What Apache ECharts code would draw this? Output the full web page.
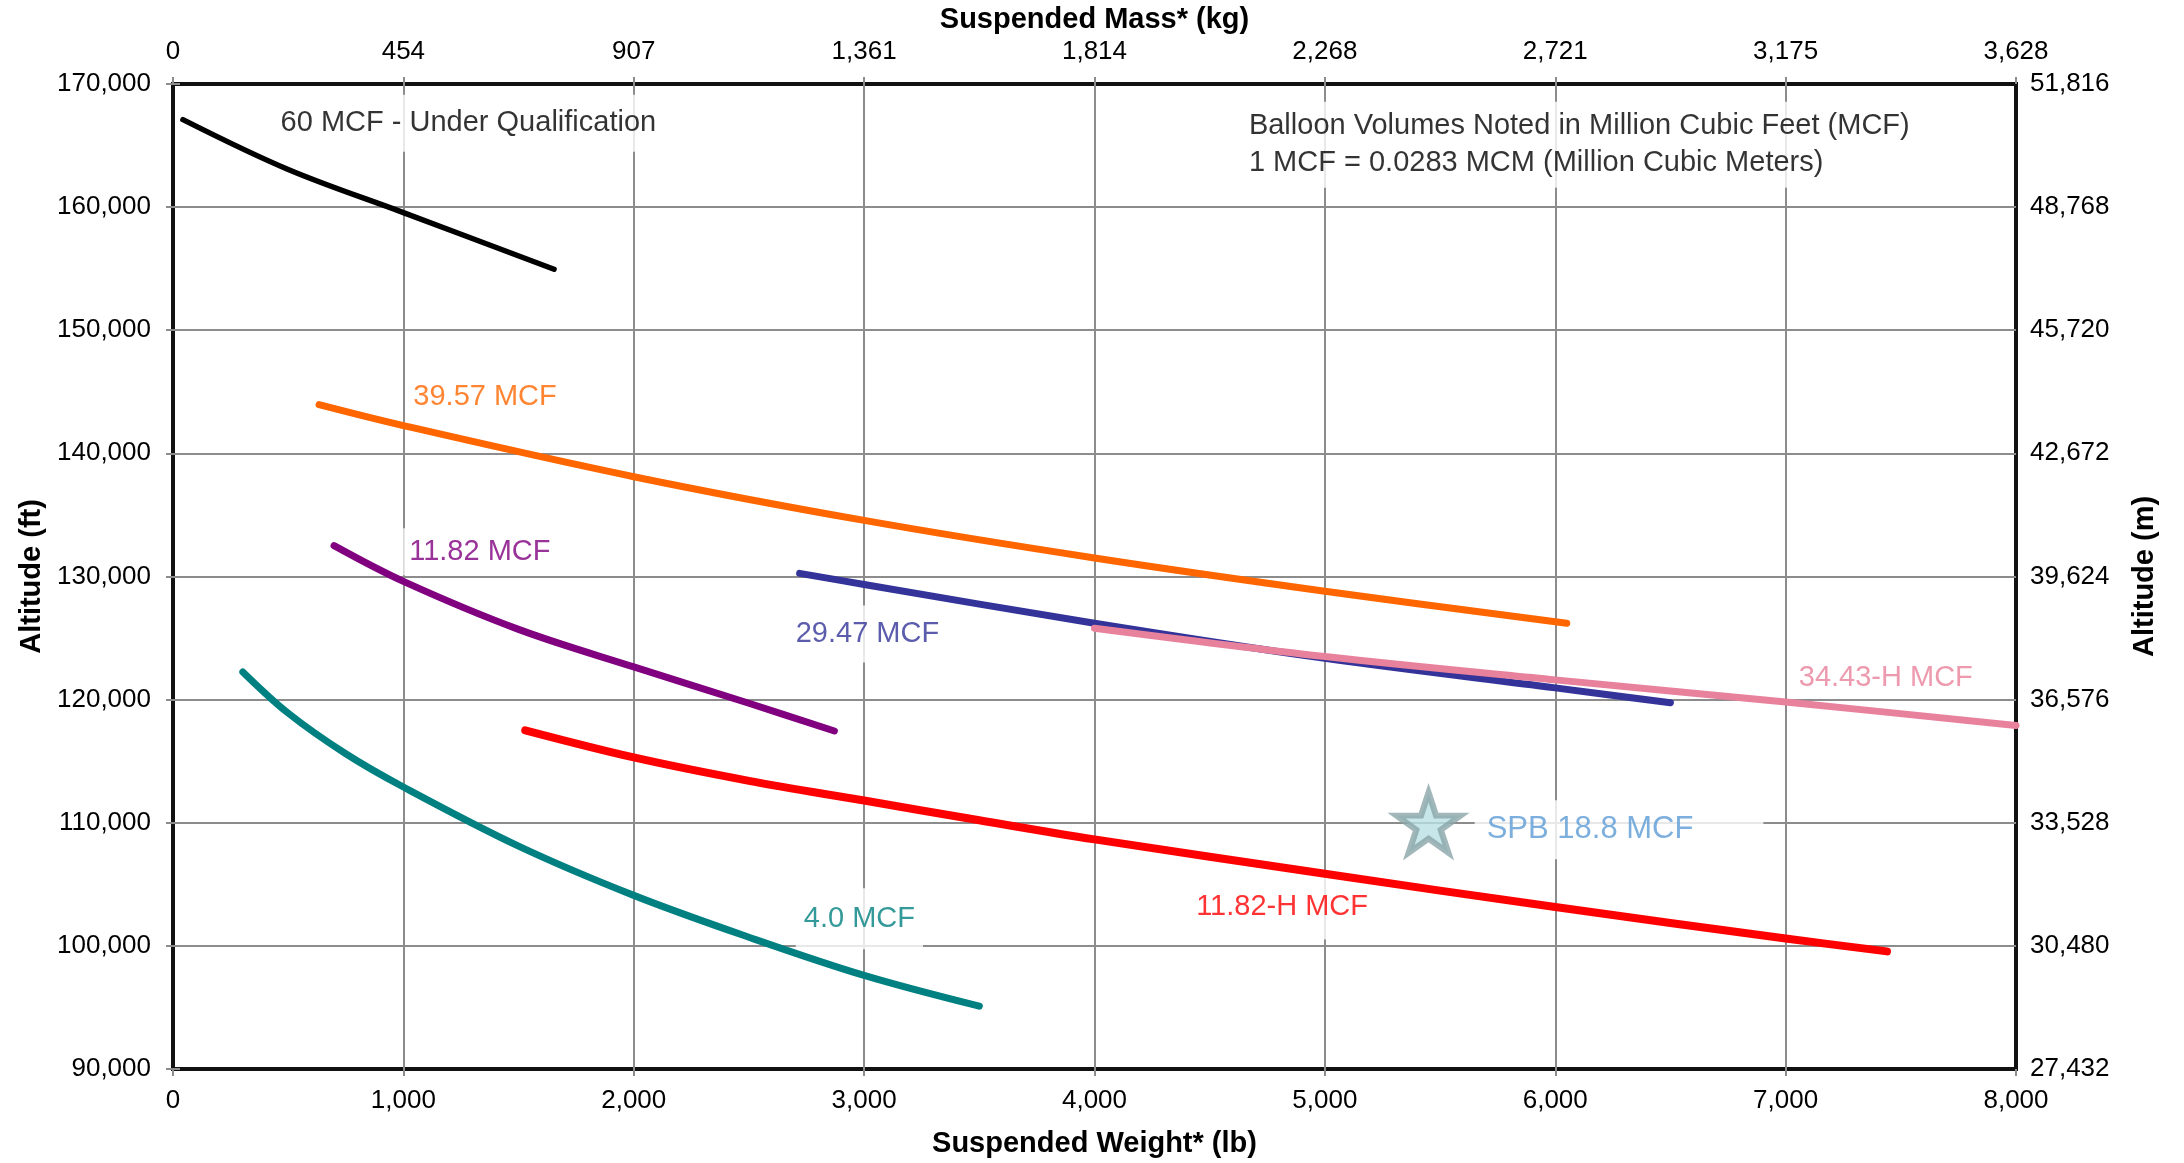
<!DOCTYPE html>
<html>
<head>
<meta charset="utf-8">
<script src="https://cdn.jsdelivr.net/npm/echarts@6/dist/echarts.min.js"></script>
<style>
html, body { margin: 0; padding: 0; background: #fff; }
#chart { width: 2184px; height: 1163px; }
</style>
</head>
<body>
<div id="chart"></div>
<script>
// tick labels
var weight_ticks = ['0', '1,000', '2,000', '3,000', '4,000', '5,000', '6,000', '7,000', '8,000'];
var mass_ticks = ['0', '454', '907', '1,361', '1,814', '2,268', '2,721', '3,175', '3,628'];
var alt_ft_ticks = ['90,000', '100,000', '110,000', '120,000', '130,000', '140,000', '150,000', '160,000', '170,000'];
var alt_m_ticks = ['27,432', '30,480', '33,528', '36,576', '39,624', '42,672', '45,720', '48,768', '51,816'];

// curves: [suspended weight lb, altitude ft]
var mcf_60 = [[43, 167100], [500, 163050], [1000, 159550], [1654, 154950]];
var mcf_39_57 = [[634, 143950], [1000, 142250], [2000, 138100], [3000, 134550], [4000, 131500], [5000, 128800], [6050, 126200]];
var mcf_11_82 = [[699, 132500], [1000, 129600], [1500, 125700], [2000, 122650], [2500, 119700], [2871, 117450]];
var mcf_29_47 = [[2720, 130250], [3000, 129350], [4000, 126200], [5000, 123350], [6000, 120950], [6500, 119750]];
var mcf_34_43_h = [[4000, 125800], [5000, 123500], [6000, 121600], [7000, 119800], [8000, 117900]];
var mcf_11_82_h = [[1529, 117500], [2000, 115300], [2500, 113400], [3000, 111800], [3500, 110200], [4000, 108650], [5000, 105850], [6000, 103150], [7000, 100600], [7440, 99550]];
var mcf_4_0 = [[303, 122250], [500, 118900], [750, 115600], [1000, 112900], [1500, 108100], [2000, 104100], [2500, 100700], [3000, 97600], [3500, 95100]];
var spb_point = [[5450, 110000]];

// text annotations (left edge of text, vertical centre)
var label_names = [
    '60 MCF - Under Qualification',
    'Balloon Volumes Noted in Million Cubic Feet (MCF)\n1 MCF = 0.0283 MCM (Million Cubic Meters)',
    '39.57 MCF', '11.82 MCF', '29.47 MCF', '34.43-H MCF', '11.82-H MCF', '4.0 MCF'
];
var label_at = [[465, 166800], [4668, 165050], [1041, 144600], [1023, 132000], [2701, 125320], [7055, 121750], [4439, 103150], [2736, 102200]];
var spb_name = 'SPB 18.8 MCF';

var FONT = 'Liberation Sans, Arial, sans-serif';
var label_colors = ['#000000', '#000000', '#ff6600', '#800080', '#333399', '#e8819b', '#ff0000', '#008080'];
var label_pads = [[10, 8], [6, 8], [8, 6], [5, 6], [10, 8], [2, 4], [14, 8], [12, 8]];

var chart = echarts.init(document.getElementById('chart'));

var label_data = label_names.map(function (n, i) {
    return {
        name: n,
        value: label_at[i],
        label: {
            color: label_colors[i],
            padding: label_pads[i],
            offset: [-label_pads[i][1], 0]
        }
    };
});

function curve(name, data, color, width) {
    return {
        name: name,
        type: 'line',
        z: 3,
        smooth: 0.35,
        showSymbol: false,
        symbol: 'none',
        data: data,
        lineStyle: { color: color, width: width, cap: 'round', join: 'round' },
        emphasis: { disabled: true }
    };
}

var grid_line = { show: true, showMinLine: false, showMaxLine: false, lineStyle: { color: '#8c8c8c', width: 2 } };
var tick_style = { show: true, length: 7, lineStyle: { color: '#8c8c8c', width: 2 } };
var tick_font = { fontFamily: FONT, fontSize: 26, color: '#000' };
var name_font = { fontFamily: FONT, fontSize: 29, fontWeight: 'bold', color: '#000' };

var option = {
    animation: false,
    backgroundColor: '#fff',
    grid: {
        left: 173, right: 168, top: 82, bottom: 92,
        show: true, borderColor: '#111', borderWidth: 4
    },
    xAxis: [{
        type: 'value', position: 'bottom', min: 0, max: 8000, interval: 1000,
        name: 'Suspended Weight* (lb)', nameLocation: 'middle', nameGap: 60, nameTextStyle: name_font,
        axisLine: { show: false }, axisTick: tick_style, splitLine: grid_line,
        axisLabel: Object.assign({ margin: 19, formatter: function (v) { return weight_ticks[Math.round(v / 1000)]; } }, tick_font)
    }, {
        type: 'value', position: 'top', min: 0, max: 8000, interval: 1000,
        name: 'Suspended Mass* (kg)', nameLocation: 'middle', nameGap: 46, nameTextStyle: name_font,
        axisLine: { show: false }, axisTick: tick_style, splitLine: { show: false },
        axisLabel: Object.assign({ margin: 19, formatter: function (v) { return mass_ticks[Math.round(v / 1000)]; } }, tick_font)
    }],
    yAxis: [{
        type: 'value', position: 'left', min: 90000, max: 170000, interval: 10000,
        name: 'Altitude (ft)', nameLocation: 'middle', nameRotate: 90, nameGap: 126, nameTextStyle: name_font,
        axisLine: { show: false }, axisTick: tick_style, splitLine: grid_line,
        axisLabel: Object.assign({ margin: 22, formatter: function (v) { return alt_ft_ticks[Math.round((v - 90000) / 10000)]; } }, tick_font)
    }, {
        type: 'value', position: 'right', min: 90000, max: 170000, interval: 10000,
        name: 'Altitude (m)', nameLocation: 'middle', nameRotate: 90, nameGap: 114, nameTextStyle: name_font,
        axisLine: { show: false }, axisTick: tick_style, splitLine: { show: false },
        axisLabel: Object.assign({ margin: 14, formatter: function (v) { return alt_m_ticks[Math.round((v - 90000) / 10000)]; } }, tick_font)
    }],
    series: [
        {
            name: 'labels',
            type: 'scatter',
            z: 1,
            symbolSize: 1,
            itemStyle: { color: 'rgba(0,0,0,0)' },
            data: label_data,
            label: {
                show: true,
                position: 'right',
                distance: 0,
                formatter: '{b}',
                fontFamily: FONT,
                fontSize: 29,
                lineHeight: 37,
                backgroundColor: '#fff'
            },
            emphasis: { disabled: true }
        },
        curve('60 MCF', mcf_60, '#000000', 5.5),
        curve('39.57 MCF', mcf_39_57, '#ff6600', 7),
        curve('11.82 MCF', mcf_11_82, '#800080', 7),
        curve('29.47 MCF', mcf_29_47, '#333399', 7),
        curve('34.43-H MCF', mcf_34_43_h, '#e8819b', 7),
        curve('11.82-H MCF', mcf_11_82_h, '#ff0000', 8),
        curve('4.0 MCF', mcf_4_0, '#008080', 7),
        {
            name: spb_name,
            type: 'scatter',
            z: 4,
            symbol: 'path://M50,0 L61.8,36.2 L100,36.2 L69.1,58.8 L80.9,95.1 L50,72.7 L19.1,95.1 L30.9,58.8 L0,36.2 L38.2,36.2 Z',
            symbolSize: [64, 60],
            itemStyle: { color: '#b8e0e3', borderColor: '#89a5a8', borderWidth: 6 },
            data: spb_point,
            label: {
                show: true,
                position: 'right',
                distance: 23,
                formatter: spb_name,
                color: '#5b9bd5',
                fontFamily: FONT,
                fontSize: 31,
                backgroundColor: '#fff',
                padding: [14, 70, 14, 12],
                offset: [-12, 7]
            },
            emphasis: { disabled: true }
        }
    ]
};

chart.setOption(option);
</script>
</body>
</html>
